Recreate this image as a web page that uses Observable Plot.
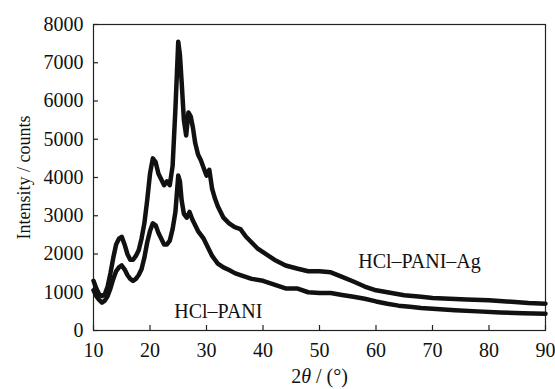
<!DOCTYPE html>
<html>
<head>
<meta charset="utf-8">
<script src="https://cdn.jsdelivr.net/npm/d3@7"></script>
<script src="https://cdn.jsdelivr.net/npm/@observablehq/plot@0.6"></script>
<style>
  html, body { margin: 0; padding: 0; background: #fff; }
  #chart svg { display: block; }
  #chart svg text { font-family: 'Liberation Serif', 'Times New Roman', serif; font-variant: normal; }
</style>
</head>
<body>
<div id="chart"></div>
<script>
// 2θ positions (degrees) and intensities
const agTheta = [10,10.5,11,11.5,12,12.5,13,13.5,14,14.5,15,15.5,16,16.5,17,17.5,18,18.5,19,19.5,20,20.5,21,21.5,22,22.5,23,23.5,24,24.5,25,25.3,25.6,26,26.4,26.8,27.2,27.6,28,28.5,29,29.5,30,30.5,31,31.5,32,32.5,33,34,35,36,37,38,39,40,42,44,46,48,50,52,54,56,58,60,62,65,68,70,73,76,80,84,87,90];
const agCounts = [1300,1100,950,900,950,1150,1500,1900,2250,2400,2450,2250,2000,1850,1850,1950,2100,2400,2800,3400,4100,4500,4400,4100,3950,3800,3900,3800,4300,5800,7550,7200,6500,5500,5100,5700,5600,5300,4900,4600,4450,4250,4050,4200,3700,3450,3250,3100,2950,2800,2700,2650,2450,2300,2150,2050,1850,1700,1620,1550,1550,1520,1400,1280,1150,1050,1000,920,880,850,830,810,790,750,720,700];

const paniTheta = [10,10.5,11,11.5,12,12.5,13,13.5,14,14.5,15,15.5,16,16.5,17,17.5,18,18.5,19,19.5,20,20.5,21,21.5,22,22.5,23,23.5,24,24.5,25,25.3,25.6,26,26.5,27,27.5,28,28.5,29,29.5,30,30.5,31,31.5,32,33,34,35,36,38,40,42,44,46,48,50,52,54,56,58,60,62,64,66,68,70,74,78,82,86,90];
const paniCounts = [1050,900,800,730,780,900,1100,1350,1550,1650,1700,1600,1450,1350,1300,1350,1450,1600,1900,2300,2600,2800,2750,2550,2400,2250,2250,2350,2650,3100,4050,3900,3400,3050,2950,3100,2900,2750,2600,2500,2400,2250,2100,1950,1850,1750,1650,1580,1500,1450,1350,1300,1200,1100,1100,1000,980,980,930,880,830,760,700,650,620,590,570,530,500,470,450,440];

const xTicks = [10,20,30,40,50,60,70,80,90];
const yTicks = [0,1000,2000,3000,4000,5000,6000,7000,8000];
const seriesNames = ["HCl\u2013PANI\u2013Ag", "HCl\u2013PANI"];
const xTitle = "2\u03b8 / (\u00b0)";
const yTitle = "Intensity / counts";

const ag = agTheta.map((t, i) => ({theta: t, counts: agCounts[i]}));
const pani = paniTheta.map((t, i) => ({theta: t, counts: paniCounts[i]}));

const FONT = "'Liberation Serif', 'Times New Roman', serif";
const W = 555, H = 389, ML = 93, MR = 10, MT = 24, MB = 59, TICK = 5;

const chart = Plot.plot({
  width: W,
  height: H,
  marginLeft: ML,
  marginRight: MR,
  marginTop: MT,
  marginBottom: MB,
  style: {fontFamily: FONT, fontSize: "20px", color: "#111", background: "#fff"},
  x: {domain: [10, 90]},
  y: {domain: [0, 8000]},
  marks: [
    Plot.frame({stroke: "#222", strokeWidth: 1.2}),
    Plot.axisX({ticks: xTicks, tickSize: 0, tickPadding: 12, fontSize: 20, fontFamily: FONT, fontVariant: "normal", tickFormat: d3.format("d"), label: xTitle, labelAnchor: "center", labelOffset: 52, labelArrow: "none"}),
    Plot.axisY({ticks: yTicks, tickSize: 0, tickPadding: 10, fontSize: 20, fontFamily: FONT, fontVariant: "normal", tickFormat: d3.format("d"), label: null}),
    Plot.text([yTitle], {frameAnchor: "left", text: d => d, rotate: -90, dx: -69, fontSize: 18, fill: "#111", textAnchor: "middle", lineAnchor: "middle"}),
    Plot.tickX(xTicks, {x: d => d, stroke: "#222", strokeWidth: 1.2, insetTop: (H - MT - MB) - TICK}),
    Plot.tickY(yTicks, {y: d => d, stroke: "#222", strokeWidth: 1.2, insetRight: (W - ML - MR) - TICK}),
    Plot.line(pani, {x: "theta", y: "counts", stroke: "#111", strokeWidth: 4.5, strokeLinejoin: "round", curve: "linear"}),
    Plot.line(ag, {x: "theta", y: "counts", stroke: "#111", strokeWidth: 4.5, strokeLinejoin: "round", curve: "linear"}),
    Plot.text([seriesNames[0]], {x: 67.7, y: 1800, text: d => d, fontSize: 20, fill: "#111", textAnchor: "middle", lineAnchor: "middle"}),
    Plot.text([seriesNames[1]], {x: 32.1, y: 500, text: d => d, fontSize: 20, fill: "#111", textAnchor: "middle", lineAnchor: "middle"})
  ]
});
document.getElementById("chart").appendChild(chart);

// italic θ in the x-axis title
d3.select(chart).selectAll("text").each(function() {
  const t = d3.select(this);
  if (t.text() === xTitle) {
    t.text(null);
    t.append("tspan").text("2");
    t.append("tspan").attr("font-style", "italic").text("\u03b8");
    t.append("tspan").text(" / (\u00b0)");
  }
});
</script>
</body>
</html>
